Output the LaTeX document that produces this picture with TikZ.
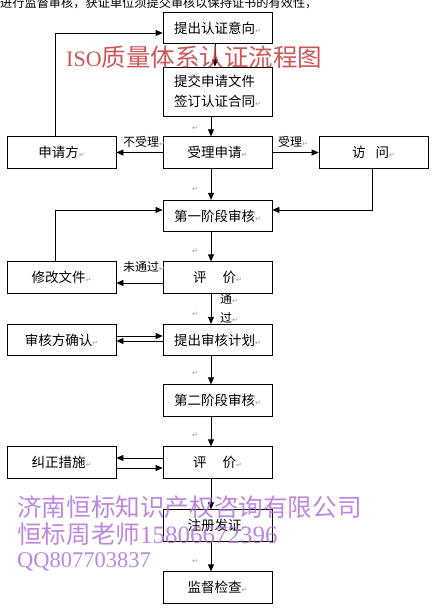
\documentclass[tikz,border=0pt]{standalone}
\usepackage{fontspec}
\setmainfont{Liberation Serif}
\newfontfamily\cjk{Noto Sans CJK SC}
\newfontfamily\dvs{DejaVu Sans}
\usetikzlibrary{arrows.meta,calc}
\definecolor{wmred}{HTML}{C43A3A}
\definecolor{wmpur}{HTML}{B274D8}
\newcommand\pmk{{\dvs\color{black!40}\fontsize{7}{7}\selectfont ↵}}
\begin{document}
\begin{tikzpicture}[x=1pt,y=-1pt,
  box/.style={draw, line width=0.8pt, minimum width=109pt, minimum height=31.5pt, inner sep=0pt, font=\cjk\fontsize{13.5}{20}\selectfont},
  arr/.style={line width=0.8pt, -{Triangle[length=7pt,width=6pt]}},
  lab/.style={inner sep=0pt, font=\cjk\fontsize{12}{14}\selectfont},
  fm/.style={inner sep=0pt}]
\clip (0,0) rectangle (432,612);
\fill[white] (0,0) rectangle (432,612);
% clipped heading line
\node[anchor=base west, inner sep=0pt, font=\cjk\fontsize{12.2}{15}\selectfont] (hd) at (0,7.5) {进行监督审核，获证单位须提交审核以保持证书的有效性，};
% boxes
\node[box] (n1) at (217.5,28) {提出认证意向\pmk};
\node[box, minimum height=49pt, align=left] (n2) at (217.5,91.5) {提交申请文件\\签订认证合同\pmk};
\node[box] (sq) at (61.5,152.5) {申请方\pmk};
\node[box] (sl) at (217.5,152.5) {受理申请\pmk};
\node[box] (fw) at (373.5,152.5) {访\hspace{10pt}问\pmk};
\node[box] (s1) at (217.5,216) {第一阶段审核\pmk};
\node[box] (p1) at (217.5,277.5) {评\hspace{16pt}价\pmk};
\node[box] (xg) at (61.5,277.5) {修改文件\pmk};
\node[box] (jh) at (217.5,340) {提出审核计划\pmk};
\node[box] (qr) at (61.5,340) {审核方确认\pmk};
\node[box] (s2) at (217.5,400.5) {第二阶段审核\pmk};
\node[box] (p2) at (217.5,462.5) {评\hspace{16pt}价\pmk};
\node[box] (jz) at (61.5,462.5) {纠正措施\pmk};
\node[box] (zc) at (217.5,525.5) {注册发证\pmk};
\node[box] (jd) at (217.5,587.5) {监督检查\pmk};
% helper coordinates
\coordinate (vx) at (211,0);
\coordinate (vx1) at (215,0);
\coordinate (lx) at (55,0);
\coordinate (rx) at (372,0);
\coordinate (y33) at (0,33);
\coordinate (y210) at (0,210);
\coordinate (y283) at (0,283);
\coordinate (y336) at (0,336);
\coordinate (y341) at (0,341);
\coordinate (y458) at (0,458);
\coordinate (y468) at (0,468);
% connectors
\draw[arr] (n1.south -| vx1) -- (n2.north -| vx1);
\draw[arr] (n2.south -| vx) -- (sl.north -| vx);
\draw[arr] (sq.north -| lx) |- (n1.west |- y33);
\draw[arr] (sl.west) -- (sq.east);
\draw[arr] (sl.east) -- (fw.west);
\draw[arr] (sl.south -| vx) -- (s1.north -| vx);
\draw[arr] (fw.south -| rx) |- (s1.east |- y210);
\draw[arr] (xg.north -| lx) |- (s1.west |- y210);
\draw[arr] (s1.south -| vx) -- (p1.north -| vx);
\draw[arr] (p1.west |- y283) -- (xg.east |- y283);
\draw[arr] (p1.south -| vx) -- (jh.north -| vx);
\draw[arr] (qr.east |- y336) -- (jh.west |- y336);
\draw[arr] (jh.west |- y341) -- (qr.east |- y341);
\draw[arr] (jh.south -| vx) -- (s2.north -| vx);
\draw[arr] (s2.south -| vx) -- (p2.north -| vx);
\draw[arr] (p2.west |- y458) -- (jz.east |- y458);
\draw[arr] (jz.east |- y468) -- (p2.west |- y468);
\draw[arr] (p2.south -| vx) -- (zc.north -| vx);
\draw[arr] (zc.south -| vx) -- (jd.north -| vx);
% connector labels
\node[lab] (lbl1) at (144,142) {不受理\pmk};
\node[lab] (lbl2) at (293,142) {受理\pmk};
\node[lab] (lbl3) at (144,267) {未通过\pmk};
\node[lab] (lbl4) at (229,299) {通\pmk};
\node[lab] (lbl5) at (229,318) {过\pmk};
% floating paragraph marks
\foreach \yy/\nm in {63/a,128/b,189/c,251/d,314/e,373/f,435/g,561/h}
  \node[fm] (pm\nm) at (195,\yy) {\pmk};
% watermarks
\node[anchor=west, inner sep=0pt, text=wmred, opacity=0.85] (wm1) at (66,57)
  {\fontsize{22}{26}\selectfont ISO{\cjk\fontsize{24.5}{30}\selectfont 质量体系认证流程图}};
\node[anchor=west, inner sep=0pt, text=wmpur, opacity=0.85, font=\cjk\fontsize{24.6}{28}\selectfont] (wm2) at (17,507) {济南恒标知识产权咨询有限公司};
\node[anchor=west, inner sep=0pt, text=wmpur, opacity=0.85] (wm3) at (17,534)
  {{\cjk\fontsize{24.6}{28}\selectfont 恒标周老师}\fontsize{25}{28}\selectfont 15806672396};
\node[anchor=west, inner sep=0pt, text=wmpur, opacity=0.85] (wm4) at (17,562)
  {\fontsize{22.5}{28}\selectfont QQ807703837};
\end{tikzpicture}
\end{document}
